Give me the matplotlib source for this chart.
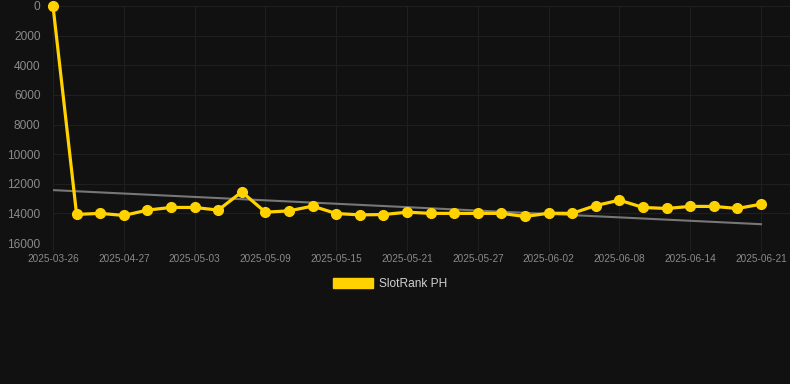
import numpy as np
import matplotlib
matplotlib.use("Agg")
import matplotlib.pyplot as plt
from matplotlib.patches import Patch

# dates (category axis, every 3rd one labelled)
dates = ["2025-03-26", "2025-04-23", "2025-04-25", "2025-04-27", "2025-04-29",
         "2025-05-01", "2025-05-03", "2025-05-05", "2025-05-07", "2025-05-09",
         "2025-05-11", "2025-05-13", "2025-05-15", "2025-05-17", "2025-05-19",
         "2025-05-21", "2025-05-23", "2025-05-25", "2025-05-27", "2025-05-29",
         "2025-05-31", "2025-06-02", "2025-06-04", "2025-06-06", "2025-06-08",
         "2025-06-10", "2025-06-12", "2025-06-14", "2025-06-17", "2025-06-19",
         "2025-06-21"]

# rank values
rank = [0, 14070, 14000, 14140, 13780, 13600, 13600, 13780, 12550, 13920,
        13830, 13510, 14010, 14100, 14080, 13920, 14000, 14000, 14000, 14000,
        14210, 13990, 14000, 13470, 13110, 13600, 13670, 13530, 13530, 13670,
        13380]

# trend line end values
trend = [12430, 14730]

series_name = "SlotRank PH"
bg = "#111111"
yellow = "#ffd200"
grid_col = "#1f1f1f"
txt_col = "#8a8a8a"

fig = plt.figure(figsize=(7.9, 3.84), dpi=100, facecolor=bg)
ax = fig.add_axes([53 / 790, (384 - 243) / 384, 737 / 790, (243 - 6) / 384])
ax.set_facecolor(bg)

x = np.arange(len(dates))
ax.plot([0, len(dates) - 1], trend, color="#777777", lw=1.5, zorder=2)
ax.plot(x, rank, color=yellow, lw=2.3, marker="o", ms=7, zorder=3,
        clip_on=False)

ax.set_xlim(0, 30 * 737 / 708)
ax.set_ylim(16000, 0)
ax.set_yticks(range(0, 16001, 2000))
ax.set_xticks(x[::3])
ax.set_xticklabels(dates[::3])

ax.grid(True, color=grid_col, lw=0.8)
ax.set_axisbelow(True)
for s in ax.spines.values():
    s.set_visible(False)
ax.tick_params(axis="y", length=0, pad=9, labelsize=8.6, labelcolor=txt_col)
ax.tick_params(axis="x", length=6, color=grid_col, pad=2, labelsize=7.2,
               labelcolor=txt_col)
for lab in ax.get_xticklabels() + ax.get_yticklabels():
    lab.set_fontfamily("Liberation Sans")

leg = fig.legend(handles=[Patch(facecolor=yellow, edgecolor=yellow)],
                 labels=[series_name], loc="center", bbox_to_anchor=(390 / 790, 1 - 284 / 384),
                 frameon=False, handlelength=3.3, handleheight=1.0,
                 handletextpad=0.5, prop={"family": "Liberation Sans", "size": 8.6})
for t in leg.get_texts():
    t.set_color("#d0d0d0")

fig.savefig("out.png", dpi=100, facecolor=bg)
